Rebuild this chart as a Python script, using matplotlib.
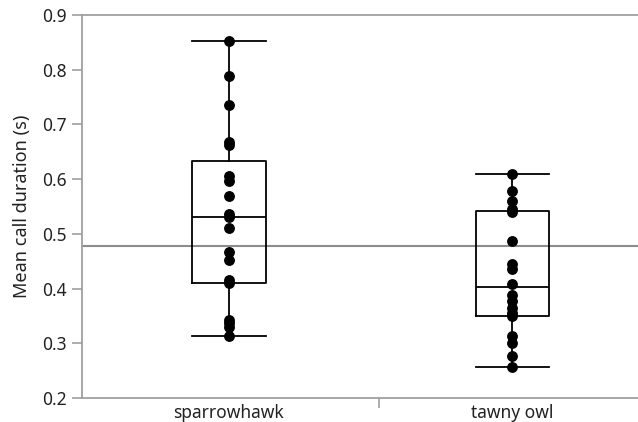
import matplotlib
matplotlib.use("Agg")
import matplotlib.pyplot as plt

# Data
groups = ["sparrowhawk", "tawny owl"]
sparrowhawk = [0.853, 0.788, 0.735, 0.668, 0.662, 0.606, 0.596, 0.570,
               0.537, 0.530, 0.510, 0.466, 0.452, 0.415, 0.410, 0.343,
               0.337, 0.330, 0.314]
tawny_owl = [0.609, 0.578, 0.560, 0.546, 0.540, 0.487, 0.444, 0.436,
             0.408, 0.388, 0.378, 0.364, 0.356, 0.350, 0.314, 0.300,
             0.277, 0.257]
# box statistics: lower whisker, q1, median, q3, upper whisker
box_low = [0.314, 0.257]
box_q1 = [0.411, 0.349]
box_med = [0.530, 0.403]
box_q3 = [0.634, 0.541]
box_high = [0.853, 0.609]
grand_mean = 0.477
yticks = [0.2, 0.3, 0.4, 0.5, 0.6, 0.7, 0.8, 0.9]

plt.rcParams["font.family"] = ["Noto Sans", "DejaVu Sans"]

fig = plt.figure(figsize=(6.38, 4.22), dpi=100)
ax = fig.add_axes([82 / 638, 1 - 398 / 422, 556 / 638, 383 / 422])

stats = []
for i, name in enumerate(groups):
    stats.append({"label": name, "whislo": box_low[i], "q1": box_q1[i],
                  "med": box_med[i], "q3": box_q3[i], "whishi": box_high[i]})

line_kw = dict(color="black", linewidth=1.3)
ax.bxp(stats, positions=[0, 1], widths=0.26, capwidths=0.26,
       showfliers=False, boxprops=line_kw, whiskerprops=line_kw,
       capprops=line_kw, medianprops=line_kw, manage_ticks=False)

for i, vals in enumerate([sparrowhawk, tawny_owl]):
    ax.plot([i] * len(vals), vals, "o", color="black", markersize=6.8,
            zorder=5)

ax.axhline(grand_mean, color="#8c8c8c", linewidth=1.5, zorder=1)

ax.set_xlim(-0.5185, 1.4427)
ax.set_ylim(0.2, 0.9)
ax.set_yticks(yticks)
ax.set_yticklabels([f"{t:.1f}" for t in yticks])
ax.set_xticks([0, 1])
ax.set_xticklabels(groups)
ax.set_xticks([0.529], minor=True)
ax.tick_params(axis="x", which="major", length=0, pad=4, labelsize=12.5,
               colors="#222222")
ax.tick_params(axis="x", which="minor", length=7, width=1.2, color="#a0a0a0")
ax.tick_params(axis="y", length=7, width=1.2, color="#a0a0a0", pad=4,
               labelsize=12.5, labelcolor="#222222")
ax.set_ylabel("Mean call duration (s)", fontsize=13, color="#222222",
              labelpad=8)

for side in ["left", "bottom", "top"]:
    ax.spines[side].set_color("#a0a0a0")
    ax.spines[side].set_linewidth(1.3)
ax.spines["right"].set_visible(False)

fig.savefig("out.png", dpi=100)
